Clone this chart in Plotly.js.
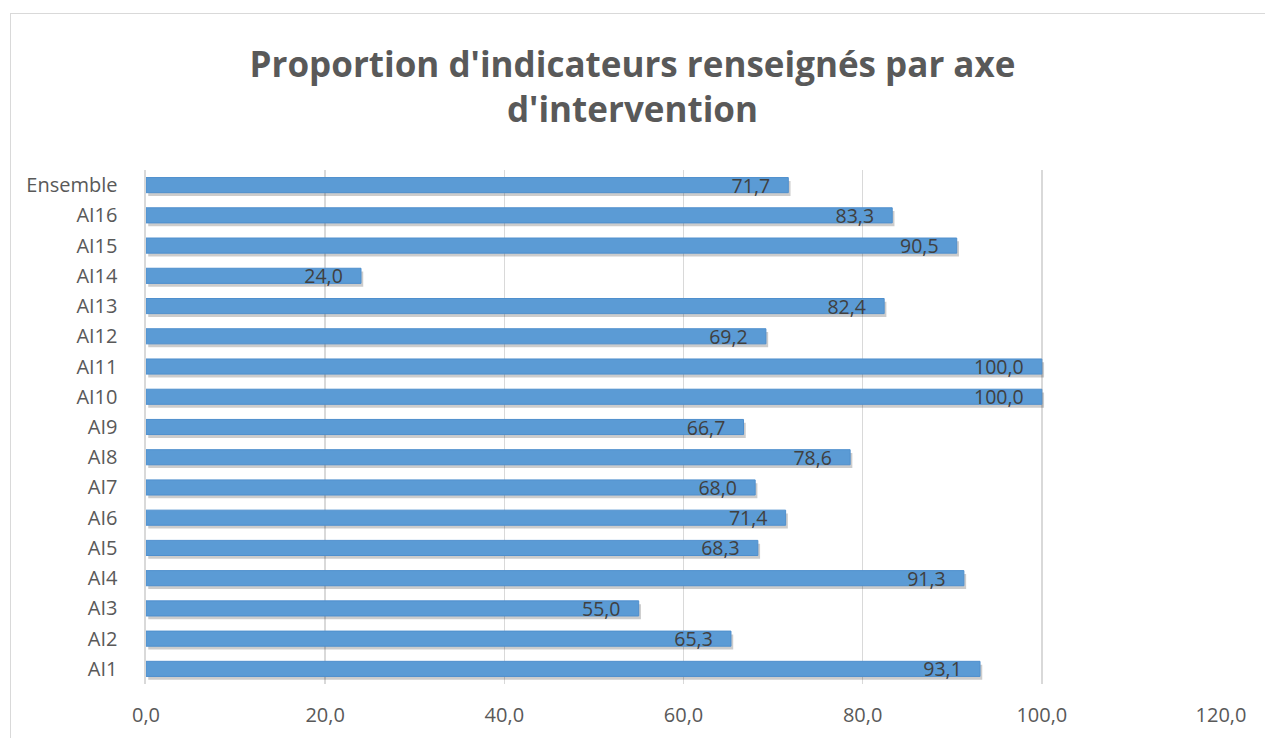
<!DOCTYPE html>
<html><head><meta charset="utf-8">
<script src="https://cdn.plot.ly/plotly-3.0.1.min.js"></script>
<style>
html,body{margin:0;padding:0;background:#fff;overflow:hidden;}
#chart{position:absolute;left:0;top:0;width:1265px;height:738px;}
#frame{position:absolute;left:10px;top:13px;width:1300px;height:800px;border-left:1px solid #d9d9d9;border-top:1px solid #d9d9d9;pointer-events:none;}
</style></head>
<body>
<div id="chart"></div>
<div id="frame"></div>
<script>
const categories = ["AI1","AI2","AI3","AI4","AI5","AI6","AI7","AI8","AI9","AI10","AI11","AI12","AI13","AI14","AI15","AI16","Ensemble"];
const values = [93.1,65.3,55.0,91.3,68.3,71.4,68.0,78.6,66.7,100.0,100.0,69.2,82.4,24.0,90.5,83.3,71.7];
const tickVals = [0,20,40,60,80,100,120];
const tickText = ["0,0","20,0","40,0","60,0","80,0","100,0","120,0"];
const labels = values.map(v => v.toFixed(1).replace('.', ',') + '\u00a0\u00a0\u00a0');

const font = "Open Sans, Liberation Sans, sans-serif";
const shadow = {
  type: 'bar', orientation: 'h',
  x: values, y: categories,
  base: 0.25,
  width: 0.5, offset: -0.36,
  marker: {color: 'rgba(0,0,0,0.2)', line: {width: 0}},
  hoverinfo: 'none'
};
const trace = {
  type: 'bar', orientation: 'h',
  x: values, y: categories,
  width: 0.5, offset: -0.25,
  marker: {color: '#5b9bd5', line: {color: '#4f8fcd', width: 1}},
  text: labels, textposition: 'inside', insidetextanchor: 'end',
  textfont: {family: font, size: 19.5, color: '#404040'},
  constraintext: 'none',
  cliponaxis: false,
  hoverinfo: 'none'
};
const layout = {
  width: 1265, height: 738,
  barmode: 'overlay',
  margin: {l: 146, r: 44, t: 170, b: 54},
  paper_bgcolor: '#fff', plot_bgcolor: '#fff',
  title: {text: "Proportion d'indicateurs renseignés par axe<br>d'intervention", x: 0.5, xanchor: 'center', y: 0.896, yanchor: 'middle',
          font: {family: font, size: 35, color: '#595959', weight: 'bold'}},
  xaxis: {range: [0, 120], tickvals: tickVals, ticktext: tickText, showgrid: true, gridcolor: '#d9d9d9', gridwidth: 1.5,
          zeroline: false, showline: false, ticks: '', tickfont: {family: font, size: 20, color: '#595959'}, ticklabelstandoff: 17},
  yaxis: {type: 'category', categoryorder: 'array', categoryarray: categories, range: [-0.5, 16.5],
          showgrid: false, zeroline: false, showline: true, linecolor: '#d9d9d9', linewidth: 2.5, ticks: '',
          tickfont: {family: font, size: 20, color: '#595959'}, ticklabelstandoff: 22},
  showlegend: false
};
Plotly.newPlot('chart', [shadow, trace], layout, {staticPlot: true});
</script>
</body></html>
